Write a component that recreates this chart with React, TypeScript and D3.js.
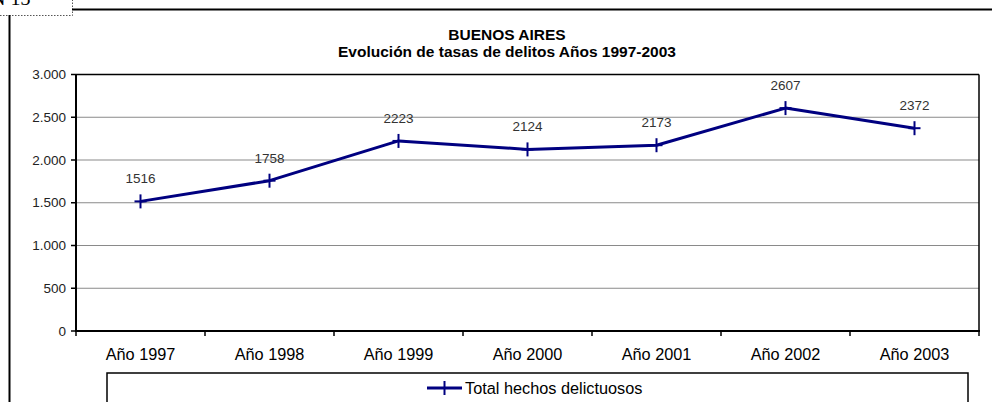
import React from "react";
import * as d3 from "d3";

const categories = ["Año 1997", "Año 1998", "Año 1999", "Año 2000", "Año 2001", "Año 2002", "Año 2003"];
const values = [1516, 1758, 2223, 2124, 2173, 2607, 2372];
const yTicks = [0, 500, 1000, 1500, 2000, 2500, 3000];
const seriesName = "Total hechos delictuosos";
const titleLines = ["BUENOS AIRES", "Evolución de tasas de delitos Años 1997-2003"];

const W = 992;
const H = 402;
const plot = { left: 76, right: 979, top: 74.5, bottom: 331 };
const NAVY = "#000080";
const FONT = "'Liberation Sans', Arial, sans-serif";

const fmt = (v: number) => {
  const s = String(v);
  return s.length > 3 ? s.slice(0, s.length - 3) + "." + s.slice(-3) : s;
};

export default function App() {
  const x = d3.scaleBand<string>().domain(categories).range([plot.left, plot.right]).padding(0);
  const y = d3.scaleLinear().domain([0, 3000]).range([plot.bottom, plot.top]);
  const cx = (c: string) => (x(c) as number) + x.bandwidth() / 2;
  const line = d3
    .line<number>()
    .x((_, i) => cx(categories[i]))
    .y((d) => y(d));

  const boundaries = categories.map((c) => x(c) as number).concat([plot.right]);

  return (
    <svg
      width={W}
      height={H}
      style={{ position: "absolute", left: 0, top: 0, background: "#fff" }}
      fontFamily={FONT}
    >
      <rect x={0} y={0} width={W} height={H} fill="#fff" />
      {/* top-left dotted label box */}
      <text x={-9} y={5} fontFamily="'Liberation Serif', 'Times New Roman', serif" fontSize={20} fill="#000">
        N 13
      </text>
      <path d="M0,15.5 H72.5 V0" fill="none" stroke="#555" strokeWidth={1} strokeDasharray="1.5,1.5" />
      {/* outer frame */}
      <line x1={72} x2={W} y1={9.5} y2={9.5} stroke="#000" strokeWidth={2} />
      <line x1={9.5} x2={9.5} y1={15} y2={H} stroke="#000" strokeWidth={2} />

      {/* title */}
      <text x={507} y={40} textAnchor="middle" fontSize={15.5} fontWeight="bold" fill="#000">
        {titleLines[0]}
      </text>
      <text x={507} y={57} textAnchor="middle" fontSize={15.5} fontWeight="bold" fill="#000">
        {titleLines[1]}
      </text>

      {/* gridlines */}
      {yTicks
        .filter((t) => t > 0 && t < 3000)
        .map((t) => (
          <line key={"g" + t} x1={plot.left} x2={plot.right} y1={y(t)} y2={y(t)} stroke="#8a8a8a" strokeWidth={1.2} />
        ))}
      {/* plot frame */}
      <line x1={plot.left} x2={plot.right} y1={plot.top} y2={plot.top} stroke="#000" strokeWidth={1.5} />
      <line x1={plot.right} x2={plot.right} y1={plot.top} y2={plot.bottom} stroke="#000" strokeWidth={1.5} />
      <line x1={plot.left} x2={plot.left} y1={plot.top} y2={plot.bottom + 1} stroke="#000" strokeWidth={2} />
      <line x1={plot.left - 1} x2={plot.right + 1} y1={plot.bottom} y2={plot.bottom} stroke="#000" strokeWidth={2} />

      {/* y ticks + labels */}
      {yTicks.map((t) => (
        <g key={"y" + t}>
          <line x1={plot.left - 5} x2={plot.left} y1={y(t)} y2={y(t)} stroke="#000" strokeWidth={1.5} />
          <text x={66} y={y(t) + 4.5} textAnchor="end" fontSize={13.5} fill="#222">
            {fmt(t)}
          </text>
        </g>
      ))}

      {/* x ticks + labels */}
      {boundaries.map((b, i) => (
        <line key={"xt" + i} x1={b} x2={b} y1={plot.bottom} y2={plot.bottom + 5} stroke="#000" strokeWidth={1.5} />
      ))}
      {categories.map((c) => (
        <text key={"xl" + c} x={cx(c)} y={360} textAnchor="middle" fontSize={16.3} fill="#000">
          {c}
        </text>
      ))}

      {/* series */}
      <path d={line(values) || ""} fill="none" stroke={NAVY} strokeWidth={3} strokeLinejoin="round" />
      {values.map((v, i) => (
        <g key={"m" + i}>
          <line x1={cx(categories[i]) - 6} x2={cx(categories[i]) + 6} y1={y(v)} y2={y(v)} stroke={NAVY} strokeWidth={2} />
          <line x1={cx(categories[i])} x2={cx(categories[i])} y1={y(v) - 7} y2={y(v) + 7} stroke={NAVY} strokeWidth={2} />
          <text x={cx(categories[i])} y={y(v) - 18} textAnchor="middle" fontSize={13.5} fill="#333">
            {v}
          </text>
        </g>
      ))}

      {/* legend */}
      <rect x={107} y={373} width={861} height={60} fill="#fff" stroke="#000" strokeWidth={1.5} />
      <line x1={427} x2={462} y1={388} y2={388} stroke={NAVY} strokeWidth={3} />
      <line x1={444.5} x2={444.5} y1={381} y2={395} stroke={NAVY} strokeWidth={2} />
      <text x={465} y={394} fontSize={16.3} fill="#000">
        {seriesName}
      </text>
    </svg>
  );
}
